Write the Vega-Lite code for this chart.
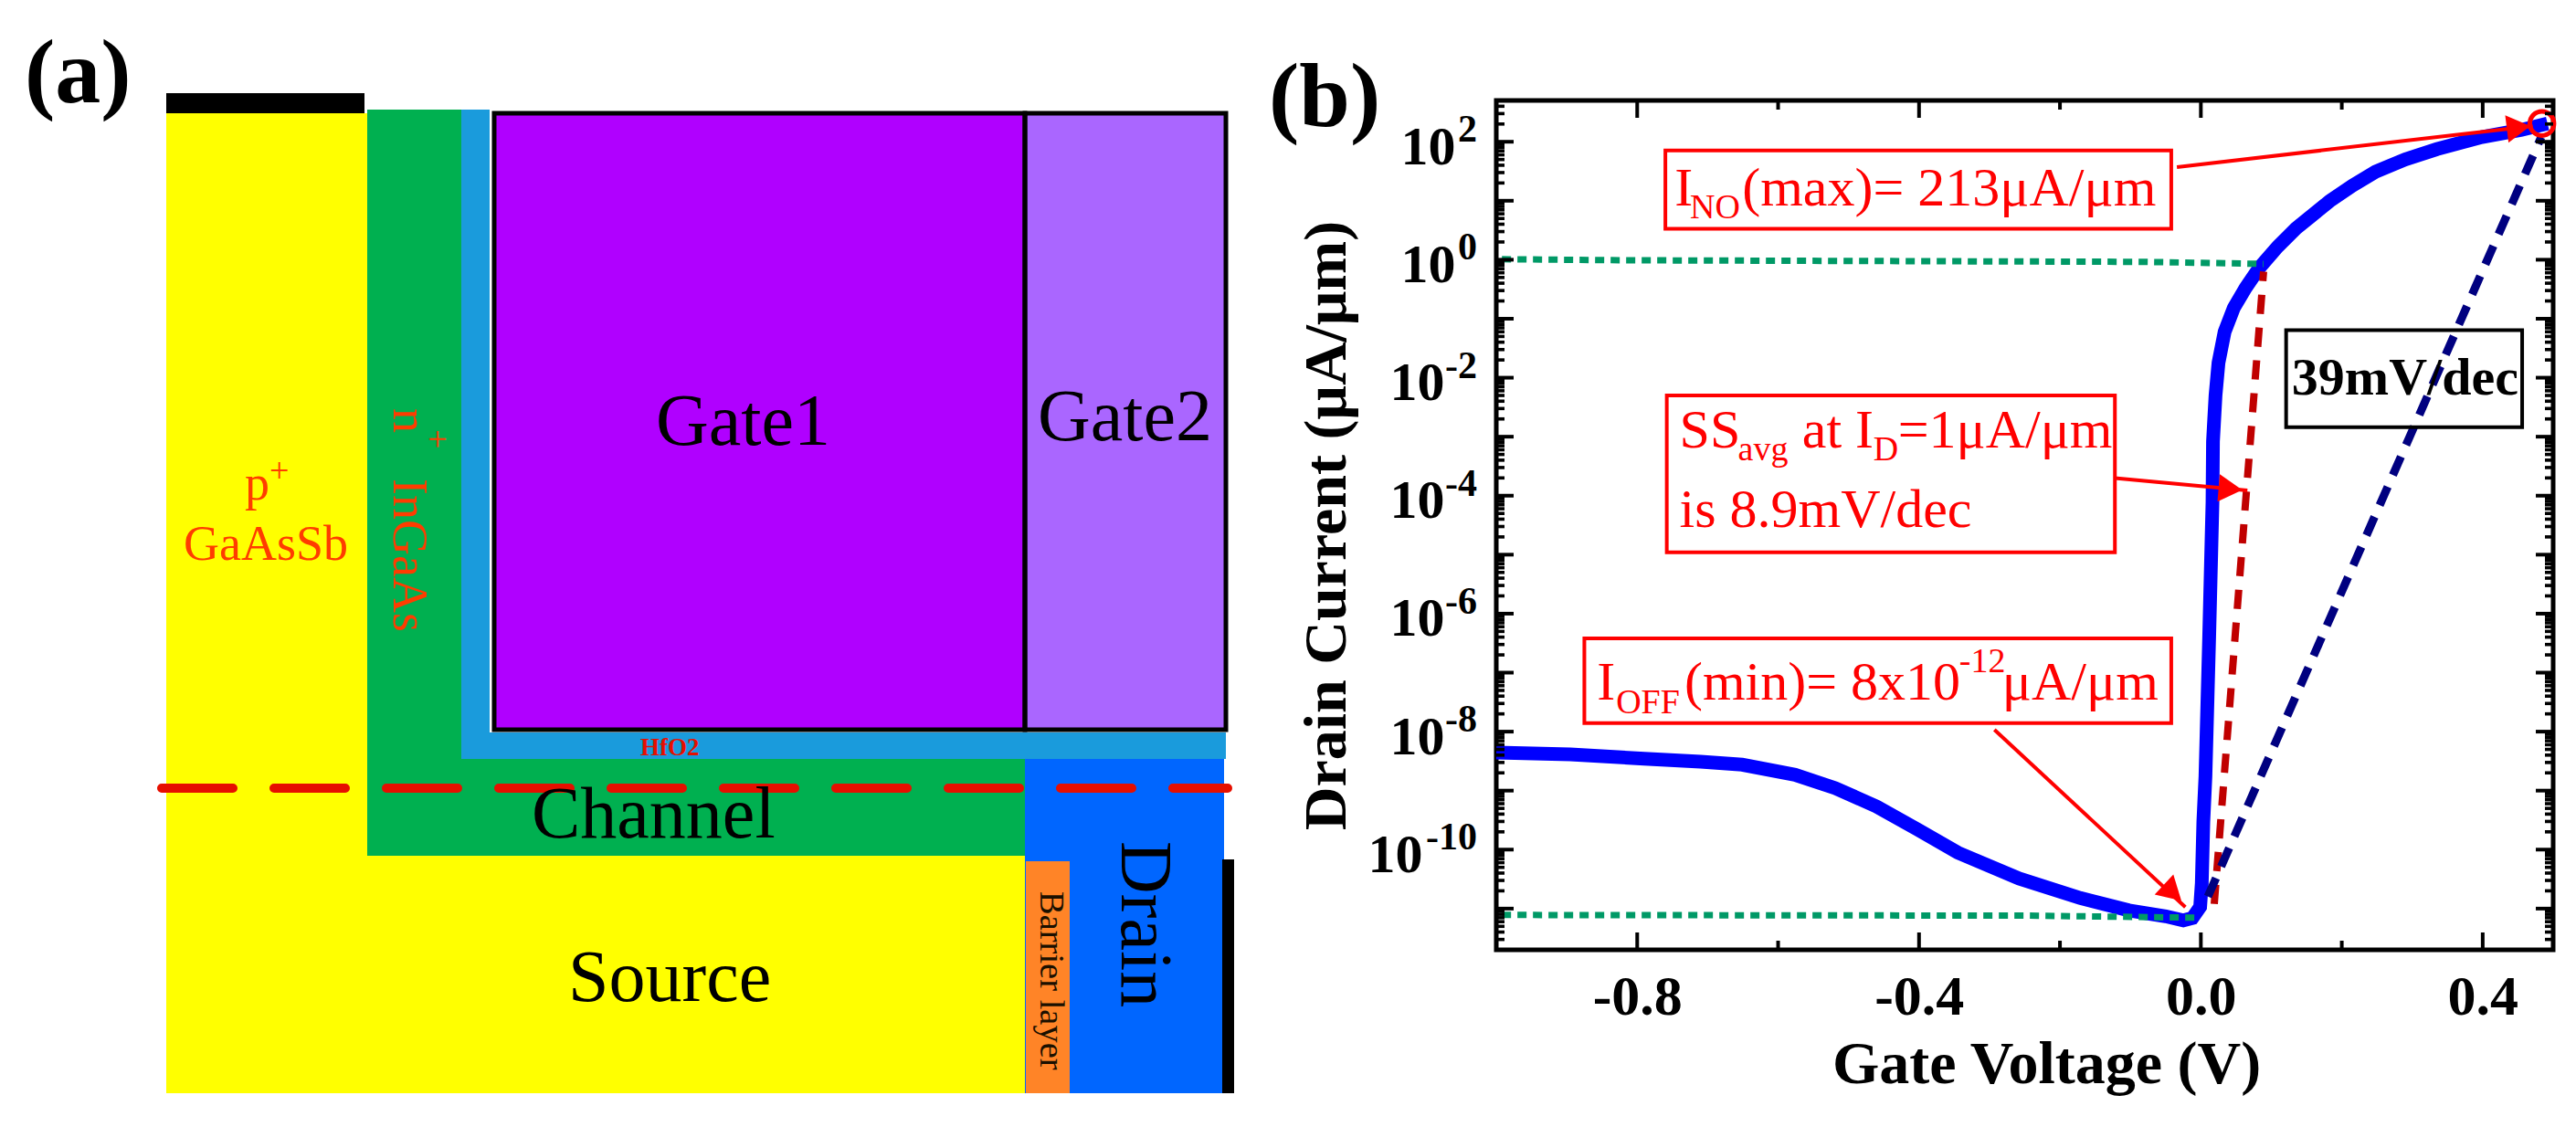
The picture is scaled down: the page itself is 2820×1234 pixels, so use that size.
{
"$schema":"https://vega.github.io/schema/vega-lite/v6.json",
"width":1157,"height":930,
"autosize":{"type":"none"},
"padding":{"left":1638,"top":110,"right":25,"bottom":194},
"background":"white",
"config":{"view":{"stroke":null},"text":{"font":"Liberation Serif"}},
"datasets":{
"regions":[
{"region":"p+ GaAsSb / Source","x1":182,"x2":402,"y1":124,"y2":1197},
{"region":"p+ GaAsSb / Source","x1":402,"x2":1122,"y1":937,"y2":1197},
{"region":"n+ InGaAs / Channel","x1":402,"x2":505,"y1":120,"y2":831},
{"region":"n+ InGaAs / Channel","x1":402,"x2":1122,"y1":831,"y2":937},
{"region":"HfO2","x1":505,"x2":536,"y1":120,"y2":831},
{"region":"HfO2","x1":505,"x2":1342,"y1":802,"y2":831},
{"region":"Drain","x1":1122,"x2":1340,"y1":831,"y2":1197},
{"region":"Barrier layer","x1":1123,"x2":1171,"y1":943,"y2":1197},
{"region":"Gate1","x1":541,"x2":1122,"y1":124,"y2":799},
{"region":"Gate2","x1":1122,"x2":1342,"y1":124,"y2":799},
{"region":"Contact","x1":182,"x2":399,"y1":102,"y2":124},
{"region":"Contact","x1":1338,"x2":1351,"y1":941,"y2":1197}
],
"curve":[
{"V":-1.0,"I":4.42e-9},{"V":-0.895,"I":4.11e-9},{"V":-0.79,"I":3.47e-9},{"V":-0.71,"I":3.09e-9},{"V":-0.651,"I":2.75e-9},{"V":-0.576,"I":1.86e-9},{"V":-0.519,"I":1.1e-9},{"V":-0.46,"I":5.37e-10},{"V":-0.402,"I":2.19e-10},{"V":-0.345,"I":8.9e-11},{"V":-0.258,"I":3.24e-11},{"V":-0.171,"I":1.51e-11},{"V":-0.102,"I":9.33e-12},{"V":-0.05,"I":7.41e-12},{"V":-0.025,"I":6.31e-12},{"V":-0.012,"I":6.92e-12},{"V":-0.001,"I":1.07e-11},{"V":0.0013,"I":2.69e-11},{"V":0.0035,"I":2.95e-10},{"V":0.0065,"I":1.75e-9},{"V":0.0117,"I":3.7e-7},{"V":0.0165,"I":7.76e-5},{"V":0.0172,"I":8.3e-4},{"V":0.0208,"I":5e-3},{"V":0.025,"I":0.0179},{"V":0.0337,"I":0.06},{"V":0.0467,"I":0.152},{"V":0.0636,"I":0.334},{"V":0.083,"I":0.73},{"V":0.109,"I":1.66},{"V":0.135,"I":3.39},{"V":0.183,"I":9.9},{"V":0.215,"I":18},{"V":0.248,"I":31},{"V":0.29,"I":50},{"V":0.335,"I":75},{"V":0.399,"I":120},{"V":0.455,"I":159},{"V":0.492,"I":204}
],
"levels":[
{"level":"on","V":-0.992,"I":1.02},{"level":"on","V":-0.821,"I":0.98},{"level":"on","V":-0.081,"I":0.92},{"level":"on","V":0.089,"I":0.85},
{"level":"off","V":-0.992,"I":7.8e-12},{"level":"off","V":-0.246,"I":7.6e-12},{"level":"off","V":-0.005,"I":7e-12}
],
"arrows":[
{"arrow":"max","V":-0.034,"I":37.2},{"arrow":"max","V":0.471,"I":184.5},
{"arrow":"ss","V":-0.122,"I":1.98e-4},{"arrow":"ss","V":0.066,"I":1.23e-4},
{"arrow":"min","V":-0.293,"I":1.08e-8},{"arrow":"min","V":-0.022,"I":1.06e-11}
],
"boxes":[
{"box":"max","V1":-0.76,"V2":-0.042,"I1":71,"I2":3.34},
{"box":"ss","V1":-0.758,"V2":-0.122,"I1":4.99e-3,"I2":1.1e-5},
{"box":"min","V1":-0.875,"V2":-0.042,"I1":3.81e-7,"I2":1.39e-8}
],
"xMajor":[{"V":-0.8,"B":2e-12,"T":501.2},{"V":-0.4,"B":2e-12,"T":501.2},{"V":0,"B":2e-12,"T":501.2},{"V":0.4,"B":2e-12,"T":501.2}],
"xMinor":[{"V":-0.6,"B":2e-12,"T":501.2},{"V":-0.2,"B":2e-12,"T":501.2},{"V":0.2,"B":2e-12,"T":501.2}],
"decades":[{"I":1e-11,"L":-1,"R":0.5},{"I":1e-10,"L":-1,"R":0.5},{"I":1e-9,"L":-1,"R":0.5},{"I":1e-8,"L":-1,"R":0.5},{"I":1e-7,"L":-1,"R":0.5},{"I":1e-6,"L":-1,"R":0.5},{"I":1e-5,"L":-1,"R":0.5},{"I":1e-4,"L":-1,"R":0.5},{"I":1e-3,"L":-1,"R":0.5},{"I":1e-2,"L":-1,"R":0.5},{"I":1e-1,"L":-1,"R":0.5},{"I":1,"L":-1,"R":0.5},{"I":10,"L":-1,"R":0.5},{"I":100,"L":-1,"R":0.5}],
"subdecades":[{"I":3e-12,"L":-1,"R":0.5},{"I":4e-12,"L":-1,"R":0.5},{"I":5e-12,"L":-1,"R":0.5},{"I":6e-12,"L":-1,"R":0.5},{"I":7e-12,"L":-1,"R":0.5},{"I":8e-12,"L":-1,"R":0.5},{"I":9e-12,"L":-1,"R":0.5},{"I":2e-11,"L":-1,"R":0.5},{"I":3e-11,"L":-1,"R":0.5},{"I":4e-11,"L":-1,"R":0.5},{"I":5e-11,"L":-1,"R":0.5},{"I":6e-11,"L":-1,"R":0.5},{"I":7e-11,"L":-1,"R":0.5},{"I":8e-11,"L":-1,"R":0.5},{"I":9e-11,"L":-1,"R":0.5},{"I":2e-10,"L":-1,"R":0.5},{"I":3e-10,"L":-1,"R":0.5},{"I":4e-10,"L":-1,"R":0.5},{"I":5e-10,"L":-1,"R":0.5},{"I":6e-10,"L":-1,"R":0.5},{"I":7e-10,"L":-1,"R":0.5},{"I":8e-10,"L":-1,"R":0.5},{"I":9e-10,"L":-1,"R":0.5},{"I":2e-9,"L":-1,"R":0.5},{"I":3e-9,"L":-1,"R":0.5},{"I":4e-9,"L":-1,"R":0.5},{"I":5e-9,"L":-1,"R":0.5},{"I":6e-9,"L":-1,"R":0.5},{"I":7e-9,"L":-1,"R":0.5},{"I":8e-9,"L":-1,"R":0.5},{"I":9e-9,"L":-1,"R":0.5},{"I":2e-8,"L":-1,"R":0.5},{"I":3e-8,"L":-1,"R":0.5},{"I":4e-8,"L":-1,"R":0.5},{"I":5e-8,"L":-1,"R":0.5},{"I":6e-8,"L":-1,"R":0.5},{"I":7e-8,"L":-1,"R":0.5},{"I":8e-8,"L":-1,"R":0.5},{"I":9e-8,"L":-1,"R":0.5},{"I":2e-7,"L":-1,"R":0.5},{"I":3e-7,"L":-1,"R":0.5},{"I":4e-7,"L":-1,"R":0.5},{"I":5e-7,"L":-1,"R":0.5},{"I":6e-7,"L":-1,"R":0.5},{"I":7e-7,"L":-1,"R":0.5},{"I":8e-7,"L":-1,"R":0.5},{"I":9e-7,"L":-1,"R":0.5},{"I":2e-6,"L":-1,"R":0.5},{"I":3e-6,"L":-1,"R":0.5},{"I":4e-6,"L":-1,"R":0.5},{"I":5e-6,"L":-1,"R":0.5},{"I":6e-6,"L":-1,"R":0.5},{"I":7e-6,"L":-1,"R":0.5},{"I":8e-6,"L":-1,"R":0.5},{"I":9e-6,"L":-1,"R":0.5},{"I":2e-5,"L":-1,"R":0.5},{"I":3e-5,"L":-1,"R":0.5},{"I":4e-5,"L":-1,"R":0.5},{"I":5e-5,"L":-1,"R":0.5},{"I":6e-5,"L":-1,"R":0.5},{"I":7e-5,"L":-1,"R":0.5},{"I":8e-5,"L":-1,"R":0.5},{"I":9e-5,"L":-1,"R":0.5},{"I":2e-4,"L":-1,"R":0.5},{"I":3e-4,"L":-1,"R":0.5},{"I":4e-4,"L":-1,"R":0.5},{"I":5e-4,"L":-1,"R":0.5},{"I":6e-4,"L":-1,"R":0.5},{"I":7e-4,"L":-1,"R":0.5},{"I":8e-4,"L":-1,"R":0.5},{"I":9e-4,"L":-1,"R":0.5},{"I":2e-3,"L":-1,"R":0.5},{"I":3e-3,"L":-1,"R":0.5},{"I":4e-3,"L":-1,"R":0.5},{"I":5e-3,"L":-1,"R":0.5},{"I":6e-3,"L":-1,"R":0.5},{"I":7e-3,"L":-1,"R":0.5},{"I":8e-3,"L":-1,"R":0.5},{"I":9e-3,"L":-1,"R":0.5},{"I":0.02,"L":-1,"R":0.5},{"I":0.03,"L":-1,"R":0.5},{"I":0.04,"L":-1,"R":0.5},{"I":0.05,"L":-1,"R":0.5},{"I":0.06,"L":-1,"R":0.5},{"I":0.07,"L":-1,"R":0.5},{"I":0.08,"L":-1,"R":0.5},{"I":0.09,"L":-1,"R":0.5},{"I":0.2,"L":-1,"R":0.5},{"I":0.3,"L":-1,"R":0.5},{"I":0.4,"L":-1,"R":0.5},{"I":0.5,"L":-1,"R":0.5},{"I":0.6,"L":-1,"R":0.5},{"I":0.7,"L":-1,"R":0.5},{"I":0.8,"L":-1,"R":0.5},{"I":0.9,"L":-1,"R":0.5},{"I":2,"L":-1,"R":0.5},{"I":3,"L":-1,"R":0.5},{"I":4,"L":-1,"R":0.5},{"I":5,"L":-1,"R":0.5},{"I":6,"L":-1,"R":0.5},{"I":7,"L":-1,"R":0.5},{"I":8,"L":-1,"R":0.5},{"I":9,"L":-1,"R":0.5},{"I":20,"L":-1,"R":0.5},{"I":30,"L":-1,"R":0.5},{"I":40,"L":-1,"R":0.5},{"I":50,"L":-1,"R":0.5},{"I":60,"L":-1,"R":0.5},{"I":70,"L":-1,"R":0.5},{"I":80,"L":-1,"R":0.5},{"I":90,"L":-1,"R":0.5},{"I":200,"L":-1,"R":0.5},{"I":300,"L":-1,"R":0.5},{"I":400,"L":-1,"R":0.5}]
},
"layer":[
{"layer":[
{"data":{"name":"regions"},"mark":{"type":"rect"},
"encoding":{"x":{"field":"x1","type":"quantitative","axis":null,"scale":{"domain":[0,2820],"range":[-1638,1182],"nice":false,"zero":false}},"x2":{"field":"x2"},
"y":{"field":"y1","type":"quantitative","axis":null,"scale":{"domain":[0,1234],"range":[-110,1124],"nice":false,"zero":false}},"y2":{"field":"y2"},
"color":{"field":"region","type":"nominal","legend":null,"scale":{"domain":["p+ GaAsSb / Source","n+ InGaAs / Channel","HfO2","Drain","Barrier layer","Gate1","Gate2","Contact"],"range":["#ffff00","#00b050","#1a9bdc","#0066ff","#ff8427","#b000ff","#aa66ff","#000000"]}}}},
{"data":{"name":"regions"},"transform":[{"filter":"datum.region=='Gate1'||datum.region=='Gate2'"}],"mark":{"type":"rect","fill":"transparent","stroke":"#000000","strokeWidth":5},
"encoding":{"x":{"field":"x1","type":"quantitative"},"x2":{"field":"x2"},"y":{"field":"y1","type":"quantitative"},"y2":{"field":"y2"}}},
{"data":{"values":[{"cut":"A","x":177,"y":863},{"cut":"A","x":1344,"y":863}]},"mark":{"type":"line","stroke":"#e60f00","strokeWidth":10,"strokeDash":[78,45],"strokeCap":"round"},
"encoding":{"x":{"field":"x","type":"quantitative"},"y":{"field":"y","type":"quantitative"}}},
{"data":{"values":[{"label":"(a)","x":27,"y":112},{"label":"(b)","x":1389,"y":138}]},"mark":{"type":"text","align":"left","baseline":"alphabetic","fontSize":100,"fontWeight":"bold","color":"#000000"},
"encoding":{"x":{"field":"x","type":"quantitative"},"y":{"field":"y","type":"quantitative"},"text":{"field":"label"}}},
{"data":{"values":[{"label":"Gate1","x":718,"y":487},{"label":"Gate2","x":1136,"y":482},{"label":"Channel","x":582,"y":917},{"label":"Source","x":622,"y":1096}]},"mark":{"type":"text","align":"left","baseline":"alphabetic","fontSize":80,"color":"#000000"},
"encoding":{"x":{"field":"x","type":"quantitative"},"y":{"field":"y","type":"quantitative"},"text":{"field":"label"}}},
{"data":{"values":[{"label":"Drain","x":1228,"y":921}]},"mark":{"type":"text","align":"left","baseline":"alphabetic","angle":90,"fontSize":80,"color":"#000000"},
"encoding":{"x":{"field":"x","type":"quantitative"},"y":{"field":"y","type":"quantitative"},"text":{"field":"label"}}},
{"data":{"values":[{"label":"Barrier layer","x":1139,"y":976}]},"mark":{"type":"text","align":"left","baseline":"alphabetic","angle":90,"fontSize":38.5,"color":"#1a1000"},
"encoding":{"x":{"field":"x","type":"quantitative"},"y":{"field":"y","type":"quantitative"},"text":{"field":"label"}}},
{"data":{"values":[{"label":"n","x":431,"y":447},{"label":"InGaAs","x":431,"y":524}]},"mark":{"type":"text","align":"left","baseline":"alphabetic","angle":90,"fontSize":54,"color":"#ff3c00"},
"encoding":{"x":{"field":"x","type":"quantitative"},"y":{"field":"y","type":"quantitative"},"text":{"field":"label"}}},
{"data":{"values":[{"label":"+","x":466,"y":470}]},"mark":{"type":"text","align":"left","baseline":"alphabetic","angle":90,"fontSize":38,"color":"#ff3c00"},
"encoding":{"x":{"field":"x","type":"quantitative"},"y":{"field":"y","type":"quantitative"},"text":{"field":"label"}}},
{"data":{"values":[{"label":"p","x":268,"y":547},{"label":"GaAsSb","x":201,"y":613}]},"mark":{"type":"text","align":"left","baseline":"alphabetic","fontSize":54,"color":"#ff3c00"},
"encoding":{"x":{"field":"x","type":"quantitative"},"y":{"field":"y","type":"quantitative"},"text":{"field":"label"}}},
{"data":{"values":[{"label":"+","x":295,"y":528}]},"mark":{"type":"text","align":"left","baseline":"alphabetic","fontSize":38,"color":"#ff3c00"},
"encoding":{"x":{"field":"x","type":"quantitative"},"y":{"field":"y","type":"quantitative"},"text":{"field":"label"}}},
{"data":{"values":[{"label":"HfO2","x":701,"y":827}]},"mark":{"type":"text","align":"left","baseline":"alphabetic","fontSize":27,"fontWeight":"bold","color":"#e60f00"},
"encoding":{"x":{"field":"x","type":"quantitative"},"y":{"field":"y","type":"quantitative"},"text":{"field":"label"}}}
]},
{"layer":[
{"data":{"values":[{"V1":-1.0,"V2":0.5,"I1":2e-12,"I2":501.2}]},"mark":{"type":"rect","fill":"transparent","stroke":"#000000","strokeWidth":5},
"encoding":{"x":{"field":"V1","type":"quantitative","axis":null,"scale":{"domain":[-1.0,0.5],"nice":false,"zero":false}},"x2":{"field":"V2"},"y":{"field":"I1","type":"quantitative","axis":null,"scale":{"type":"log","base":10,"domain":[2e-12,501.2],"nice":false}},"y2":{"field":"I2"}}},
{"data":{"name":"curve"},"mark":{"type":"line","stroke":"#0000ff","strokeWidth":15,"clip":false},
"encoding":{
"x":{"field":"V","type":"quantitative",
"axis":{"orient":"bottom","title":"Gate Voltage (V)","titleFont":"Liberation Serif","titleFontSize":66,"titleFontWeight":"bold","titleColor":"#000","titleX":602,"titleY":145,"titleAlign":"center","titleBaseline":"alphabetic","values":[-0.8,-0.4,0,0.4],"labelExpr":"replace(format(datum.value,'.1f'),'\u2212','-')","labelFont":"Liberation Serif","labelFontSize":62,"labelFontWeight":"bold","labelColor":"#000","labelPadding":21,"labelFlush":false,"labelOverlap":false,"grid":false,"domain":false,"ticks":false}},
"y":{"field":"I","type":"quantitative",
"axis":{"orient":"left","title":"Drain Current (\u03bcA/\u03bcm)","titleFont":"Liberation Serif","titleFontSize":66,"titleFontWeight":"bold","titleColor":"#000","titleX":-166,"titleY":465,"titleAlign":"center","titleBaseline":"alphabetic","titleAngle":-90,"values":[1,100],"labelExpr":"'10'","labelFont":"Liberation Serif","labelFontSize":60,"labelFontWeight":"bold","labelColor":"#000","labelPadding":45,"labelOffset":6,"labelOverlap":false,"labelFlush":false,"grid":false,"domain":false,"ticks":false}}}},
{"data":{"name":"levels"},"mark":{"type":"line","stroke":"#009966","strokeWidth":7,"strokeDash":[10,7]},
"encoding":{"detail":{"field":"level"},
"x":{"field":"V","type":"quantitative","axis":null},
"y":{"field":"I","type":"quantitative","axis":null}}},
{"data":{"values":[{"V":0.019,"I":1.2e-11},{"V":0.089,"I":0.63}]},"mark":{"type":"line","stroke":"#c00000","strokeWidth":8,"strokeDash":[21,15]},
"encoding":{
"x":{"field":"V","type":"quantitative","axis":null},
"y":{"field":"I","type":"quantitative","axis":null}}},
{"data":{"values":[{"V":0.01,"I":1.6e-11},{"V":0.483,"I":120}]},"mark":{"type":"line","stroke":"#000080","strokeWidth":9,"strokeDash":[22,14]},
"encoding":{
"x":{"field":"V","type":"quantitative","axis":null},
"y":{"field":"I","type":"quantitative","axis":null}}},
{"data":{"values":[{"V":0.484,"I":204}]},"mark":{"type":"point","shape":"circle","filled":false,"stroke":"#ff0000","strokeWidth":5,"size":700,"opacity":1},
"encoding":{"x":{"field":"V","type":"quantitative","axis":null},"y":{"field":"I","type":"quantitative","axis":null}}},
{"data":{"name":"arrows"},"mark":{"type":"line","stroke":"#ff0000","strokeWidth":4},
"encoding":{"detail":{"field":"arrow"},"x":{"field":"V","type":"quantitative","axis":null},"y":{"field":"I","type":"quantitative","axis":{"orient":"left","title":null,"domain":false,"ticks":false,"grid":false,"values":[1e-8,1e-6,1e-4,1e-2],"labelExpr":"'10'","labelFont":"Liberation Serif","labelFontSize":60,"labelFontWeight":"bold","labelColor":"#000","labelPadding":57,"labelOffset":6,"labelOverlap":false,"labelFlush":false}}}},
{"data":{"values":[{"V":0.451,"I":174,"heading":83},{"V":0.042,"I":1.3e-4,"heading":95},{"V":-0.04,"I":1.86e-11,"heading":133}]},"mark":{"type":"point","shape":"triangle-up","filled":true,"fill":"#ff0000","stroke":null,"opacity":1,"size":900},
"encoding":{"x":{"field":"V","type":"quantitative","axis":null},"y":{"field":"I","type":"quantitative","axis":{"orient":"left","title":null,"domain":false,"ticks":false,"grid":false,"values":[1e-10],"labelExpr":"'10'","labelFont":"Liberation Serif","labelFontSize":60,"labelFontWeight":"bold","labelColor":"#000","labelPadding":81,"labelOffset":6,"labelOverlap":false,"labelFlush":false}},"angle":{"field":"heading","type":"quantitative","scale":null}}},
{"data":{"values":[{"exponent":"2","V":-1.0,"I":100},{"exponent":"0","V":-1.0,"I":1},{"exponent":"-2","V":-1.0,"I":0.01},{"exponent":"-4","V":-1.0,"I":1e-4},{"exponent":"-6","V":-1.0,"I":1e-6},{"exponent":"-8","V":-1.0,"I":1e-8},{"exponent":"-10","V":-1.0,"I":1e-10}]},"mark":{"type":"text","align":"right","baseline":"alphabetic","dx":-21,"dy":0,"fontSize":42,"fontWeight":"bold","color":"#000000","font":"Liberation Serif"},
"encoding":{"x":{"field":"V","type":"quantitative","axis":null},"y":{"field":"I","type":"quantitative","axis":null},"text":{"field":"exponent"}}},
{"data":{"name":"boxes"},"mark":{"type":"rect","fill":"transparent","stroke":"#ff0000","strokeWidth":4},
"encoding":{"x":{"field":"V1","type":"quantitative","axis":null},"x2":{"field":"V2"},"y":{"field":"I1","type":"quantitative","axis":null},"y2":{"field":"I2"}}},
{"data":{"values":[{"V1":0.121,"V2":0.456,"I1":0.064,"I2":1.45e-3}]},"mark":{"type":"rect","fill":"transparent","stroke":"#000000","strokeWidth":4},
"encoding":{"x":{"field":"V1","type":"quantitative","axis":null},"x2":{"field":"V2"},"y":{"field":"I1","type":"quantitative","axis":null},"y2":{"field":"I2"}}},
{"data":{"values":[{"label":"39mV/dec","V":0.129,"I":5.27e-3}]},"mark":{"type":"text","align":"left","baseline":"alphabetic","fontSize":58,"fontWeight":"bold","color":"#000000","font":"Liberation Serif"},
"encoding":{"x":{"field":"V","type":"quantitative","axis":null},"y":{"field":"I","type":"quantitative","axis":null},"text":{"field":"label"}}},
{"data":{"values":[{"label":"I","V":-0.747,"I":8.43},{"label":"(max)= 213\u03bcA/\u03bcm","V":-0.651,"I":8.43},{"label":"SS","V":-0.74,"I":6.62e-4},{"label":"at I","V":-0.566,"I":6.62e-4},{"label":"=1\u03bcA/\u03bcm","V":-0.43,"I":6.62e-4},{"label":"is 8.9mV/dec","V":-0.74,"I":2.94e-5},{"label":"I","V":-0.857,"I":3.52e-8},{"label":"(min)= 8x10","V":-0.733,"I":3.52e-8},{"label":"\u03bcA/\u03bcm","V":-0.282,"I":3.52e-8}]},"mark":{"type":"text","align":"left","baseline":"alphabetic","fontSize":60,"color":"#ff0000","font":"Liberation Serif"},
"encoding":{"x":{"field":"V","type":"quantitative","axis":null},"y":{"field":"I","type":"quantitative","axis":null},"text":{"field":"label"}}},
{"data":{"values":[{"label":"NO","V":-0.725,"I":5.08},{"label":"avg","V":-0.657,"I":4e-4},{"label":"D","V":-0.465,"I":4e-4},{"label":"OFF","V":-0.83,"I":2.06e-8},{"label":"-12","V":-0.343,"I":1.02e-7}]},"mark":{"type":"text","align":"left","baseline":"alphabetic","fontSize":38,"color":"#ff0000","font":"Liberation Serif"},
"encoding":{"x":{"field":"V","type":"quantitative","axis":null},"y":{"field":"I","type":"quantitative","axis":null},"text":{"field":"label"}}},
{"data":{"name":"xMajor"},"mark":{"type":"point","filled":true,"fill":"#000000","stroke":null,"opacity":1,"shape":"M-0.105,0V-1H0.105V0Z","size":1444},
"encoding":{"x":{"field":"V","type":"quantitative","axis":null},"y":{"field":"B","type":"quantitative","axis":null}}},
{"data":{"name":"xMajor"},"mark":{"type":"point","filled":true,"fill":"#000000","stroke":null,"opacity":1,"shape":"M-0.105,0V1H0.105V0Z","size":1444},
"encoding":{"x":{"field":"V","type":"quantitative","axis":null},"y":{"field":"T","type":"quantitative","axis":null}}},
{"data":{"name":"xMinor"},"mark":{"type":"point","filled":true,"fill":"#000000","stroke":null,"opacity":1,"shape":"M-0.2,0V-1H0.2V0Z","size":400},
"encoding":{"x":{"field":"V","type":"quantitative","axis":null},"y":{"field":"B","type":"quantitative","axis":null}}},
{"data":{"name":"xMinor"},"mark":{"type":"point","filled":true,"fill":"#000000","stroke":null,"opacity":1,"shape":"M-0.2,0V1H0.2V0Z","size":400},
"encoding":{"x":{"field":"V","type":"quantitative","axis":null},"y":{"field":"T","type":"quantitative","axis":null}}},
{"data":{"name":"decades"},"mark":{"type":"point","filled":true,"fill":"#000000","stroke":null,"opacity":1,"shape":"M0,-0.105H1V0.105H0Z","size":1444},
"encoding":{"x":{"field":"L","type":"quantitative","axis":null},"y":{"field":"I","type":"quantitative","axis":null}}},
{"data":{"name":"decades"},"mark":{"type":"point","filled":true,"fill":"#000000","stroke":null,"opacity":1,"shape":"M0,-0.105H-1V0.105H0Z","size":1444},
"encoding":{"x":{"field":"R","type":"quantitative","axis":null},"y":{"field":"I","type":"quantitative","axis":null}}},
{"data":{"name":"subdecades"},"mark":{"type":"point","filled":true,"fill":"#000000","stroke":null,"opacity":1,"shape":"M0,-0.2H1V0.2H0Z","size":324},
"encoding":{"x":{"field":"L","type":"quantitative","axis":null},"y":{"field":"I","type":"quantitative","axis":null}}},
{"data":{"name":"subdecades"},"mark":{"type":"point","filled":true,"fill":"#000000","stroke":null,"opacity":1,"shape":"M0,-0.2H-1V0.2H0Z","size":324},
"encoding":{"x":{"field":"R","type":"quantitative","axis":null},"y":{"field":"I","type":"quantitative","axis":null}}}
],"resolve":{"axis":{"x":"independent","y":"independent"}}}
],
"resolve":{"scale":{"x":"independent","y":"independent"}}
}
